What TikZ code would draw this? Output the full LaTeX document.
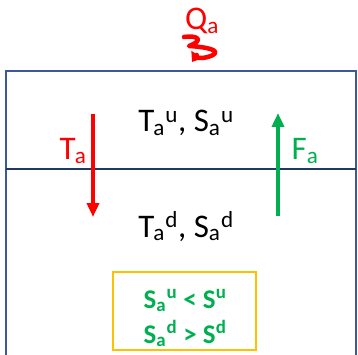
\documentclass[tikz,border=0pt]{standalone}
\usepackage{fontspec}
\setmainfont{Carlito}
\usetikzlibrary{arrows.meta}
\definecolor{boxblue}{HTML}{3A5A98}
\definecolor{navy}{HTML}{203864}
\definecolor{myred}{HTML}{FF0000}
\definecolor{mygreen}{HTML}{00B050}
\definecolor{myyellow}{HTML}{FFC000}
\newcommand{\su}[2]{\textsubscript{#1}\kern0.5pt\textsuperscript{#2}}
\begin{document}
\begin{tikzpicture}[x=1pt,y=-1pt,
  lbl/.style={font=\fontsize{33}{36}\selectfont, inner sep=0pt, anchor=base},
  glbl/.style={font=\fontsize{27}{30}\selectfont\bfseries, text=mygreen, inner sep=0pt, anchor=base},
  flux/.style={line width=3.5pt, -{Triangle[width=12pt,length=14pt]}}]
\useasboundingbox (0,0) rectangle (358,355);
% container
\draw[boxblue, line width=2pt] (6,356) -- (6,71) -- (356,71) -- (356,356);
\draw[navy, line width=2pt] (6,169) -- (356,169);
% layer texts
\node[lbl] (up) at (186,132) {T\kern-1pt\su{a}{u}, S\su{a}{u}};
\node[lbl] (dn) at (186,237) {T\kern-1pt\su{a}{d}, S\su{a}{d}};
% arrows
\coordinate (ta1) at (93,114);
\coordinate (ta2) at (93,217);
\draw[flux, myred] (ta1) -- (ta2);
\node[lbl, text=myred] (ta) at (73,160) {T\kern-1pt\textsubscript{a}};
\coordinate (fa1) at (278,216);
\coordinate (fa2) at (278,113);
\draw[flux, mygreen] (fa1) -- (fa2);
\node[lbl, text=mygreen] (fa) at (305,160) {F\textsubscript{a}};
% Q
\node[lbl, text=myred] (qa) at (202,30) {Q\textsubscript{a}};
\coordinate (q0) at (184,37);
\draw[myred, line width=4.5pt, line cap=round, line join=round, -{Triangle[width=13pt,length=9pt]}]
  (q0) .. controls (197,35) and (205,40) .. (189,46)
  .. controls (206,47) and (221,50) .. (213,55)
  .. controls (205,59) and (194,59) .. (192,62);
% yellow box
\node[draw=myyellow, line width=2pt, minimum width=143pt, minimum height=78pt, inner sep=0pt] (yb) at (184,311) {};
\node[glbl] (c1) at (185,308) {S\su{a}{u} < S\textsuperscript{u}};
\node[glbl] (c2) at (185,343) {S\su{a}{d} > S\textsuperscript{d}};
\end{tikzpicture}
\end{document}
